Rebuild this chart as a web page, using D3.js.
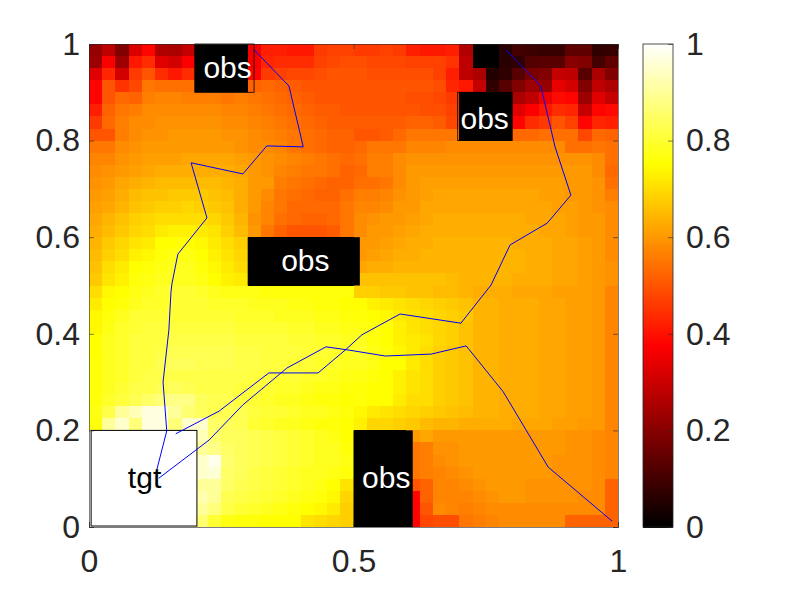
<!DOCTYPE html>
<html>
<head>
<meta charset="utf-8">
<script src="https://cdn.jsdelivr.net/npm/d3@7"></script>
<style>
  body { margin: 0; background: #fff; }
  text { font-family: "Liberation Sans", Arial, sans-serif; }
</style>
</head>
<body>
<svg id="root" width="790" height="593"></svg>
<script>
// value map in percent, top row first (y = 1 down to y = 0), 40 x 40 cells
const gridRows = [
[22,28,19,32,38,26,25,29,0,0,0,0,36,42,42,41,41,46,47,47,46,46,47,46,42,41,41,42,26,0,0,6,10,9,8,8,14,14,7,8],
[23,37,23,41,44,33,31,37,0,0,0,0,37,43,44,44,44,47,48,49,49,48,48,48,47,47,47,45,28,0,0,6,7,12,13,13,20,19,10,14],
[33,43,31,46,50,44,41,44,0,0,0,0,38,46,47,48,48,49,50,50,50,49,49,49,49,49,47,42,28,25,5,7,13,18,19,29,28,13,25,19],
[38,50,45,48,55,54,54,54,0,0,0,0,52,53,52,51,50,50,50,50,50,50,50,50,50,50,49,43,41,29,7,13,19,23,22,34,31,19,28,25],
[38,50,53,52,56,57,57,56,56,56,55,56,55,54,53,52,51,50,50,50,50,50,50,50,49,49,48,46,0,0,0,0,25,28,35,39,38,23,33,29],
[42,52,55,56,58,58,58,58,58,58,57,57,56,55,54,53,52,51,51,50,50,50,50,50,50,49,49,47,0,0,0,0,33,37,41,44,43,29,38,39],
[46,53,56,58,58,59,59,59,59,59,58,58,57,56,55,54,53,52,51,51,51,51,51,51,52,52,51,48,0,0,0,0,38,44,46,50,47,38,43,42],
[50,50,56,58,59,59,60,60,60,60,59,59,58,57,56,55,54,53,52,52,50,50,51,53,55,55,55,55,0,0,0,0,53,53,54,54,54,48,53,52],
[55,55,58,59,60,60,60,60,60,60,60,59,58,58,57,55,54,53,52,52,53,55,55,55,57,57,57,58,58,58,58,58,58,58,58,58,54,54,55,54],
[57,57,59,60,61,61,61,62,62,62,62,61,60,59,58,57,56,55,54,53,54,56,56,58,59,59,59,59,59,59,59,59,59,59,59,59,59,59,58,54],
[58,59,60,61,62,63,63,63,63,63,63,62,60,59,57,56,55,55,54,52,53,56,56,58,60,60,60,60,60,60,60,60,60,60,60,60,60,60,58,53],
[59,60,62,63,64,65,65,65,65,65,64,63,60,60,56,55,54,53,52,52,54,54,55,58,60,61,61,61,61,61,61,61,61,61,61,61,60,60,59,54],
[60,61,63,65,66,66,67,67,67,66,65,63,60,58,55,54,53,52,52,54,56,56,57,59,60,61,62,62,62,62,62,62,62,62,61,61,60,60,59,56],
[61,62,64,66,67,68,68,69,68,67,66,63,60,57,55,53,53,53,53,55,57,57,58,60,60,62,62,62,62,62,62,62,62,62,62,61,61,60,59,58],
[62,64,66,68,69,70,70,70,70,69,67,64,59,57,54,53,52,52,53,55,58,59,60,60,61,62,63,63,63,63,63,63,63,62,62,62,61,60,60,58],
[63,65,67,69,70,72,73,73,72,71,68,65,60,55,52,50,50,50,51,55,58,60,60,61,62,63,63,63,63,63,63,63,63,63,62,62,61,60,60,58],
[64,67,69,71,72,75,75,75,74,72,70,68,0,0,0,0,0,0,0,0,60,60,61,62,63,63,64,64,64,64,64,64,63,63,63,62,62,61,60,58],
[65,68,70,73,74,76,77,77,75,73,71,69,0,0,0,0,0,0,0,0,60,61,62,63,63,64,64,64,64,64,64,64,64,63,63,62,62,61,60,58],
[66,70,72,75,76,77,78,78,76,74,72,70,0,0,0,0,0,0,0,0,62,63,63,64,64,64,64,64,64,64,64,64,64,63,63,62,62,61,60,59],
[67,71,73,76,77,78,78,78,77,75,73,72,0,0,0,0,0,0,0,0,66,66,66,66,66,66,66,65,64,64,64,64,63,63,63,62,62,61,60,59],
[70,74,75,77,78,79,80,80,79,78,77,77,77,76,76,76,76,76,76,76,68,68,67,67,66,66,65,65,64,63,63,63,62,62,62,61,61,61,60,57],
[72,75,76,78,79,79,80,80,80,79,79,79,78,78,78,77,77,76,76,75,75,73,72,71,70,69,68,67,66,64,64,63,63,63,62,62,61,61,60,57],
[74,76,78,80,80,80,80,80,80,80,80,79,79,79,78,78,78,77,77,76,76,75,74,72,71,70,69,68,67,64,64,63,63,63,62,62,61,61,60,57],
[74,77,79,80,81,81,81,81,81,81,81,80,80,80,80,79,79,78,78,77,77,76,75,73,71,70,69,68,66,64,64,63,63,63,62,62,61,61,60,57],
[75,78,79,81,81,81,82,82,82,82,82,81,81,81,81,80,80,79,79,78,78,76,75,73,72,71,69,68,66,64,64,63,63,63,62,62,61,61,60,57],
[75,78,79,81,81,82,83,83,83,83,83,82,82,81,81,81,80,80,79,78,79,77,76,74,72,70,68,67,66,64,64,63,63,63,62,62,61,61,60,57],
[76,78,79,81,81,83,84,84,83,83,83,82,82,81,81,80,80,79,79,78,78,77,75,75,72,70,68,67,66,64,64,63,63,63,62,62,61,61,60,57],
[76,78,79,81,82,82,82,82,82,82,82,82,81,81,80,80,79,79,78,77,77,76,75,73,71,70,68,67,66,64,64,63,63,63,62,62,61,61,60,57],
[76,78,80,82,82,83,84,83,82,82,82,81,81,80,79,79,78,77,77,76,76,75,75,73,71,70,68,67,66,64,64,63,63,63,62,62,61,61,60,57],
[76,79,81,83,85,87,88,88,84,83,83,81,80,79,78,78,77,76,76,75,76,75,75,72,70,70,68,67,66,64,64,63,63,63,62,62,61,61,60,57],
[77,82,90,93,97,97,90,86,84,83,83,83,81,80,80,79,78,78,77,76,74,72,71,70,69,68,67,66,65,64,64,63,63,63,62,62,61,61,60,57],
[76,90,95,87,97,97,87,95,95,85,84,83,80,79,78,78,77,76,76,75,73,69,69,68,67,65,64,64,63,63,63,63,62,62,62,61,61,60,60,57],
[100,100,100,100,100,100,100,100,93,86,84,84,83,82,81,80,79,78,77,75,0,0,0,0,60,62,60,60,60,60,60,60,60,60,60,60,59,59,58,57],
[100,100,100,100,100,100,100,100,90,88,85,84,83,82,81,80,79,78,78,76,0,0,0,0,55,56,59,59,60,60,60,60,60,60,60,60,59,59,58,57],
[100,100,100,100,100,100,100,100,95,98,86,84,83,82,81,80,79,78,78,77,0,0,0,0,55,56,58,59,60,60,60,60,60,60,60,59,59,59,58,57],
[100,100,100,100,100,100,100,100,95,96,85,84,82,81,80,79,78,78,77,76,0,0,0,0,55,56,57,58,59,60,60,60,60,60,60,59,59,59,58,57],
[100,100,100,100,100,100,100,100,90,90,85,83,82,81,80,79,78,77,75,71,0,0,0,0,50,52,57,57,58,59,60,60,60,59,59,59,59,59,58,52],
[100,100,100,100,100,100,100,100,92,90,83,82,81,80,79,78,77,76,74,69,0,0,0,0,38,52,57,57,57,58,59,60,60,59,59,59,59,58,58,52],
[100,100,100,100,100,100,100,100,90,87,82,80,79,78,77,76,75,74,72,68,0,0,0,0,38,50,58,57,56,57,58,58,58,58,58,58,58,58,58,52],
[100,100,100,100,100,100,100,100,86,80,77,76,76,75,75,75,71,70,69,68,0,0,0,0,38,48,49,49,55,56,57,58,58,58,58,58,52,52,52,52]
];

// robot paths, x then y
const pathAx = [.312,.378,.405,.336,.291,.193,.223,.168,.157,.155,.151,.140,.147,.129];
const pathAy = [.988,.913,.787,.789,.731,.754,.640,.565,.505,.487,.408,.300,.199,.122];
const pathBx = [.788,.854,.881,.911,.866,.796,.760,.703,.588,.516,.484,.433,.340,.246,.164];
const pathBy = [.988,.913,.787,.687,.629,.584,.501,.422,.441,.398,.366,.319,.319,.240,.193];
const pathCx = [.989,.868,.783,.713,.647,.560,.493,.448,.374,.291,.227,.132];
const pathCy = [.012,.124,.280,.375,.358,.354,.366,.373,.329,.253,.180,.101];

// obstacles as x0, x1, y0, y1
const obsBoxes = [[.2,.3,.9,1],[.7,.8,.8,.9],[.3,.512,.5,.6],[.5,.612,0,.2]];
const obsOutlines = [[.2,.312,.9,1],[.697,.8,.8,.9]];
const tgtBox = [.004,.204,.002,.2];
const labels = ["obs","obs","obs","obs","tgt"];
const labelX = [.262,.748,.409,.562,.105];
const labelY = [.93,.825,.53,.08,.08];

const xTicks = [0,.5,1];
const yTicks = [0,.2,.4,.6,.8,1];

const margin = { top: 44, left: 89 },
  width = 529,
  height = 483;

const root = d3.select("#root");
const svg = root.append("g")
  .attr("transform", `translate(${margin.left},${margin.top})`);

var xScale = d3.scaleLinear([0, 1], [0, width]);
var yScale = d3.scaleLinear([0, 1], [height, 0]);
var colX = d3.scaleBand(d3.range(40), [0, width]);
var colY = d3.scaleBand(d3.range(40), [0, height]);

// hot colormap
var hot = d3.scaleLinear([0, .375, .75, 1], ["#000000", "#ff0000", "#ffff00", "#ffffff"]);

// Heatmap
gridRows.forEach((row, r) => {
  svg.append("g").selectAll("rect")
    .data(row)
    .join("rect")
    .attr("x", (d, c) => colX(c))
    .attr("y", colY(r))
    .attr("width", colX.bandwidth() + .4)
    .attr("height", colY.bandwidth() + .4)
    .attr("shape-rendering", "crispEdges")
    .attr("fill", d => hot(d / 100));
});

// Obstacles and target
function addBox(b) {
  return svg.append("rect")
    .attr("x", xScale(b[0]))
    .attr("y", yScale(b[3]))
    .attr("width", xScale(b[1]) - xScale(b[0]))
    .attr("height", yScale(b[2]) - yScale(b[3]));
}
obsBoxes.forEach(b => addBox(b).attr("fill", "black"));
obsOutlines.forEach(b => addBox(b).attr("fill", "none").attr("stroke", "black").attr("stroke-width", .8));
addBox(tgtBox).attr("fill", "white").attr("stroke", "black").attr("stroke-width", 1);

svg.selectAll(".lbl")
  .data(labels)
  .join("text")
  .attr("class", "lbl")
  .attr("x", (d, i) => xScale(labelX[i]))
  .attr("y", (d, i) => yScale(labelY[i]))
  .attr("text-anchor", "middle")
  .attr("font-size", 30)
  .attr("fill", d => d == "tgt" ? "black" : "white")
  .text(d => d);

// Paths
var line = d3.line().x(d => xScale(d[0])).y(d => yScale(d[1]));
[[pathAx, pathAy], [pathBx, pathBy], [pathCx, pathCy]].forEach(p => {
  svg.append("path")
    .datum(d3.zip(p[0], p[1]))
    .attr("fill", "none")
    .attr("stroke", "#0000ff")
    .attr("stroke-width", 1)
    .attr("d", line);
});

// Axes, ticks point inward
function styleAxis(g, size) {
  g.selectAll(".domain").attr("stroke", "#262626").attr("stroke-width", .6);
  g.selectAll("line").attr("stroke", "#262626").attr("stroke-width", .6);
  g.selectAll("text")
    .attr("font-size", size)
    .attr("font-family", '"Liberation Sans", Arial, sans-serif')
    .attr("fill", "#262626");
}
const fmt = d => d3.format("~g")(d);

svg.append("g").attr("transform", `translate(0,${height})`)
  .call(d3.axisBottom(xScale).tickValues(xTicks).tickFormat(fmt).tickSize(-5).tickPadding(22))
  .call(styleAxis, 32);
svg.append("g")
  .call(d3.axisLeft(yScale).tickValues(yTicks).tickFormat(fmt).tickSize(-5).tickPadding(9))
  .call(styleAxis, 32);
svg.append("g")
  .call(d3.axisTop(xScale).tickValues(xTicks).tickFormat("").tickSize(-5))
  .call(styleAxis, 32);
svg.append("g").attr("transform", `translate(${width},0)`)
  .call(d3.axisRight(yScale).tickValues(yTicks).tickFormat("").tickSize(-5))
  .call(styleAxis, 32);

// Colorbar
const cbWidth = 30;
const cb = root.append("g").attr("transform", `translate(643,${margin.top})`);
cb.selectAll("rect")
  .data(d3.range(0, 1, 1 / 256))
  .join("rect")
  .attr("x", 0)
  .attr("y", d => yScale(d + 1 / 256))
  .attr("width", cbWidth)
  .attr("height", height / 256 + .5)
  .attr("shape-rendering", "crispEdges")
  .attr("fill", d => hot(d));
cb.append("rect")
  .attr("width", cbWidth)
  .attr("height", height)
  .attr("fill", "none")
  .attr("stroke", "#262626")
  .attr("stroke-width", .8);
cb.append("g").attr("transform", `translate(${cbWidth},0)`)
  .call(d3.axisRight(yScale).tickValues(yTicks).tickFormat(fmt).tickSize(-5).tickPadding(13))
  .call(styleAxis, 32)
  .select(".domain").remove();
</script>
</body>
</html>
